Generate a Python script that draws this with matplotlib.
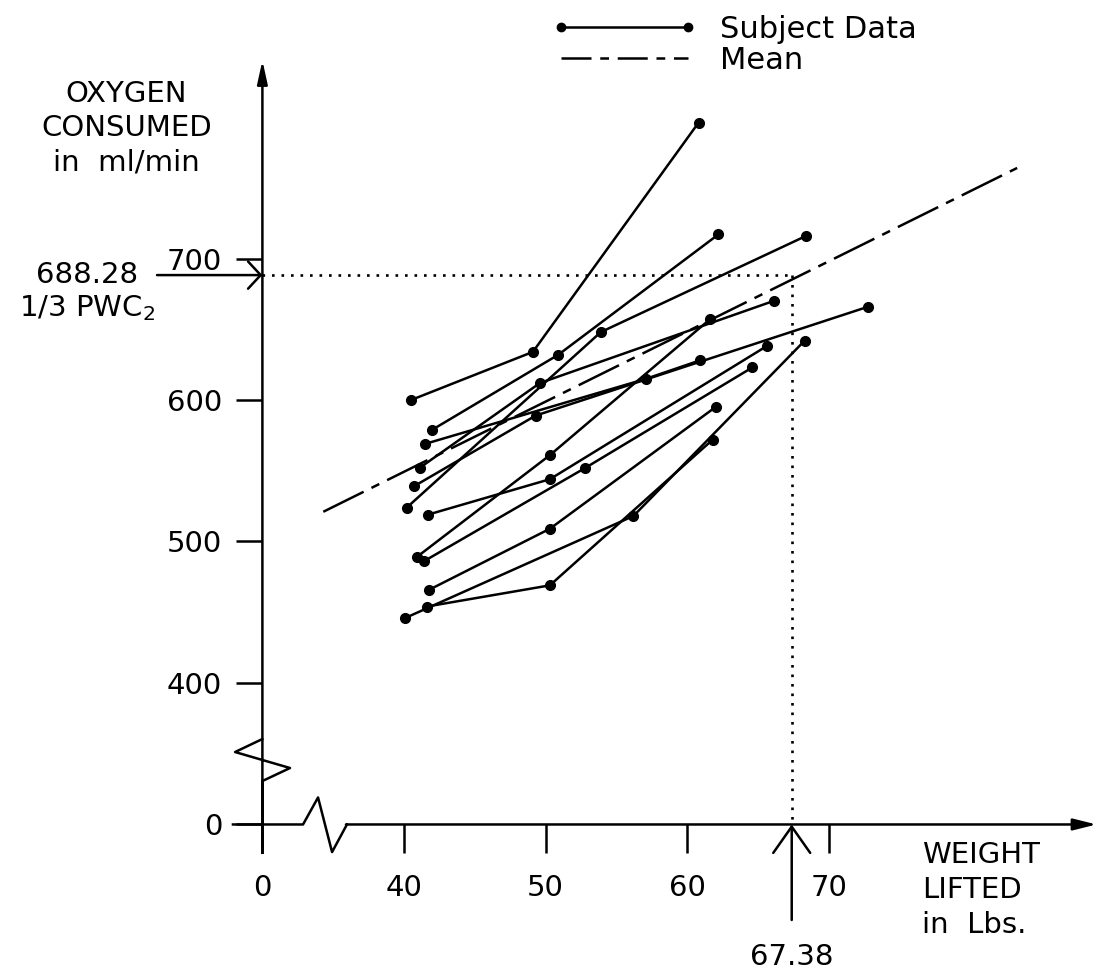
import matplotlib
matplotlib.use("Agg")
import matplotlib.pyplot as plt
from matplotlib.lines import Line2D

plt.rcParams['font.family'] = ['DejaVu Sans']

# weight lifted (lbs) and oxygen consumed (ml/min) for each subject
subject_lbs = [
    [40.5, 49.1, 60.8],
    [42.0, 50.9, 62.2],
    [41.5, 57.1, 60.9],
    [40.7, 49.3, 72.8],
    [41.1, 49.6, 66.1],
    [40.2, 53.9, 68.4],
    [41.7, 50.3, 65.6],
    [40.9, 50.3, 61.6],
    [41.4, 52.8, 64.6],
    [41.8, 50.3, 62.0],
    [41.6, 50.3, 61.8],
    [40.1, 56.2, 68.3],
]
subject_o2 = [
    [600, 634, 796],
    [579, 632, 717],
    [569, 615, 628],
    [539, 589, 666],
    [552, 612, 670],
    [524, 648, 716],
    [519, 544, 638],
    [489, 561, 657],
    [486, 552, 623],
    [466, 509, 595],
    [454, 469, 572],
    [446, 518, 642],
]

# mean regression line
mean_lbs = [34.3, 83.3]
mean_o2 = [521, 764]

# 1/3 PWC2 reading
pwc_lbs = 67.38
pwc_o2 = 688.28

# both axes are broken: zero is drawn at these positions
X_ZERO = 30
Y_ZERO = 300
xtick_vals = [X_ZERO, 40, 50, 60, 70]
xtick_labels = ['0', '40', '50', '60', '70']
ytick_vals = [Y_ZERO, 400, 500, 600, 700]
ytick_labels = ['0', '400', '500', '600', '700']

FS = 21
LW = 1.8

fig = plt.figure(figsize=(11, 9.77), dpi=100)
ax = fig.add_axes([0, 0, 1, 1])
ax.set_xlim(11.47, 89.15)
ax.set_ylim(192.2, 882.7)

for side in ['top', 'right']:
    ax.spines[side].set_visible(False)
ax.spines['left'].set_position(('data', X_ZERO))
ax.spines['bottom'].set_position(('data', Y_ZERO))
ax.spines['left'].set_color('none')
ax.spines['bottom'].set_color('none')

ax.set_xticks(xtick_vals, xtick_labels)
ax.set_yticks(ytick_vals, ytick_labels)
ax.tick_params(axis='x', direction='out', length=21, width=LW, pad=15, labelsize=FS)
ax.tick_params(axis='y', direction='out', length=19, width=LW, pad=10, labelsize=FS)

# y axis with zigzag break
ax.plot([X_ZERO, X_ZERO, 28.07, 31.95, X_ZERO, X_ZERO],
        [280, 360.4, 351.2, 339.9, 330.7, 280], color='black', lw=LW)
ax.annotate('', xy=(X_ZERO, 840), xytext=(X_ZERO, 360),
            arrowprops=dict(arrowstyle='-|>,head_length=1.0,head_width=0.22',
                            mutation_scale=14, color='black', lw=LW,
                            shrinkA=0, shrinkB=0))

# x axis with zigzag break
ax.plot([27.92, 32.87, 33.93, 34.92, 35.97], [Y_ZERO, Y_ZERO, 319.1, 280.5, Y_ZERO],
        color='black', lw=LW)
ax.annotate('', xy=(88.9, Y_ZERO), xytext=(35.9, Y_ZERO),
            arrowprops=dict(arrowstyle='-|>,head_length=1.0,head_width=0.25',
                            mutation_scale=14, color='black', lw=LW,
                            shrinkA=0, shrinkB=0))

# subjects
for lbs, o2 in zip(subject_lbs, subject_o2):
    ax.plot(lbs, o2, color='black', lw=LW, marker='o', ms=7)

ax.plot(mean_lbs, mean_o2, color='black', lw=LW, ls=(0, (18, 3.5, 3.5, 3.5)))

# dotted guide lines to the PWC reading
ax.plot([X_ZERO, pwc_lbs], [pwc_o2, pwc_o2], color='black', lw=1.9, ls=(0, (1, 2.6)))
ax.plot([pwc_lbs, pwc_lbs], [pwc_o2, Y_ZERO], color='black', lw=1.9, ls=(0, (1, 2.6)))

ax.annotate('', xy=(X_ZERO, pwc_o2), xytext=(22.56, pwc_o2),
            arrowprops=dict(arrowstyle='->,head_length=0.65,head_width=0.7',
                            mutation_scale=14, color='black', lw=LW,
                            shrinkA=0, shrinkB=0))
ax.annotate('', xy=(pwc_lbs, Y_ZERO), xytext=(pwc_lbs, 232.5),
            arrowprops=dict(arrowstyle='->,head_length=1.35,head_width=0.95',
                            mutation_scale=14, color='black', lw=LW,
                            shrinkA=0, shrinkB=0))

ax.text(17.6, pwc_o2, f'{pwc_o2:.2f}', fontsize=FS, ha='center', va='center')
ax.text(17.6, 665, '1/3 PWC$_2$', fontsize=FS, ha='center', va='center')
ax.text(pwc_lbs, 206.4, f'{pwc_lbs:.2f}', fontsize=FS, ha='center', va='center')

ax.text(20.4, 792, 'OXYGEN\nCONSUMED\nin  ml/min', fontsize=FS, ha='center',
        va='center', linespacing=1.3)
ax.text(76.6, 253.7, 'WEIGHT\nLIFTED\nin  Lbs.', fontsize=FS, ha='left',
        va='center', linespacing=1.3)

handles = [
    Line2D([], [], color='black', lw=LW, marker='o', ms=6),
    Line2D([], [], color='black', lw=LW, ls=(0, (12, 3.5, 3.5, 3.5))),
]
ax.legend(handles, ['Subject Data', 'Mean'], loc='upper left',
          bbox_to_anchor=(552 / 1100, 1 - 15 / 977), frameon=False,
          fontsize=22, numpoints=2, handlelength=4.74, handletextpad=0.75,
          labelspacing=0.05, borderpad=0, borderaxespad=0)

fig.savefig('out.png', dpi=100)
